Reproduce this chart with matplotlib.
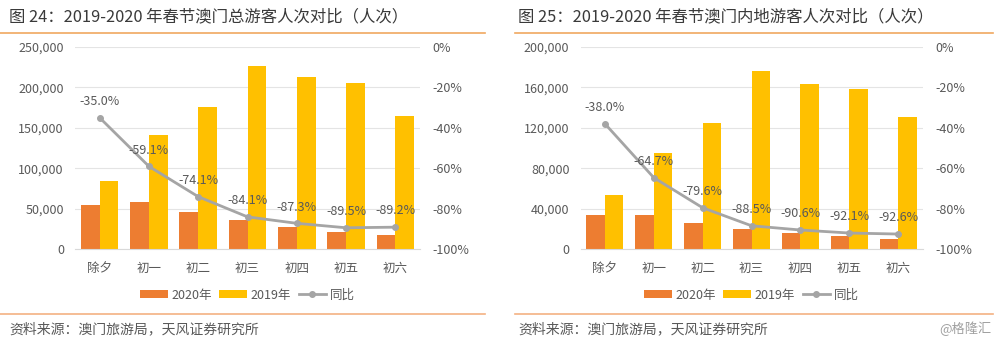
import matplotlib.pyplot as plt
import numpy as np
from matplotlib.ticker import FuncFormatter

plt.rcParams['font.family'] = ['Noto Sans CJK SC', 'DejaVu Sans']

days = ['除夕', '初一', '初二', '初三', '初四', '初五', '初六']

# 总游客
total_2020 = [54700, 57700, 45500, 36000, 27000, 21500, 17800]
total_2019 = [84200, 141000, 175700, 226500, 213000, 205000, 165000]
total_yoy = [-35.0, -59.1, -74.1, -84.1, -87.3, -89.5, -89.2]

# 内地游客
mainland_2020 = [33200, 33400, 25500, 20200, 15400, 12500, 9700]
mainland_2019 = [53500, 94700, 125000, 176000, 163700, 158000, 131000]
mainland_yoy = [-38.0, -64.7, -79.6, -88.5, -90.6, -92.1, -92.6]

ORANGE = '#ED7D31'
YELLOW = '#FFC000'
GRAY = '#A5A5A5'
TEXT = '#595959'
RULE = '#F4B183'


def draw_panel(fig, rect, v2020, v2019, yoy, ymax, ystep):
    ax = fig.add_axes(rect)
    x = np.arange(len(days))
    w = 0.38
    ax.bar(x - w / 2, v2020, w, color=ORANGE, label='2020年', zorder=2)
    ax.bar(x + w / 2, v2019, w, color=YELLOW, label='2019年', zorder=2)
    ax.set_ylim(0, ymax)
    ax.set_yticks(np.arange(0, ymax + 1, ystep))
    ax.yaxis.set_major_formatter(FuncFormatter(lambda v, p: f'{int(v):,}'))
    ax.set_xlim(-0.5, len(days) - 0.5)
    ax.set_xticks(x)
    ax.set_xticklabels(days)
    ax.grid(axis='y', color='#E4E4E4', lw=0.8, zorder=0)
    for s in ['top', 'right', 'left']:
        ax.spines[s].set_visible(False)
    ax.spines['bottom'].set_color('#D9D9D9')
    ax.tick_params(length=0, labelsize=9, colors=TEXT)
    ax.tick_params(axis='x', pad=9)
    ax.tick_params(axis='y', pad=8)

    ax2 = ax.twinx()
    ax2.plot(x, np.array(yoy) / 100, color=GRAY, lw=2, marker='o', ms=4,
             label='同比', zorder=3)
    for xi, v in zip(x, yoy):
        ax2.annotate(f'{v:.1f}%', (xi, v / 100), xytext=(0, 7),
                     textcoords='offset points', ha='center', va='bottom',
                     fontsize=9, color=TEXT)
    ax2.set_ylim(-1, 0)
    ax2.set_yticks(np.arange(-1, 0.01, 0.2))
    ax2.yaxis.set_major_formatter(FuncFormatter(lambda v, p: f'{round(v * 100)}%'))
    for s in ax2.spines.values():
        s.set_visible(False)
    ax2.tick_params(length=0, labelsize=9, colors=TEXT, pad=9)

    h1, l1 = ax.get_legend_handles_labels()
    h2, l2 = ax2.get_legend_handles_labels()
    leg = fig.legend(h1 + h2, l1 + l2, loc='center',
                     bbox_to_anchor=(rect[0] + rect[2] / 2, 1 - 295 / 344),
                     ncol=3, frameon=False, fontsize=9, handlelength=2.2,
                     handleheight=0.6, columnspacing=0.6, handletextpad=0.3)
    for t in leg.get_texts():
        t.set_color(TEXT)
    return ax


fig = plt.figure(figsize=(10, 3.44), dpi=100)

draw_panel(fig, [0.075, 0.2762, 0.345, 0.5872],
           total_2020, total_2019, total_yoy, 250000, 50000)
draw_panel(fig, [0.5805, 0.2762, 0.342, 0.5872],
           mainland_2020, mainland_2019, mainland_yoy, 200000, 40000)

# titles, rules and source notes
fig.text(0.009, 1 - 17 / 344, '图 24：2019-2020 年春节澳门总游客人次对比（人次）',
         fontsize=11.8, color='#3A3A3A', va='center', ha='left')
fig.text(0.518, 1 - 17 / 344, '图 25：2019-2020 年春节澳门内地游客人次对比（人次）',
         fontsize=11.8, color='#3A3A3A', va='center', ha='left')
for x0, x1 in [(0.0, 0.485), (0.515, 0.993)]:
    fig.add_artist(plt.Line2D([x0, x1], [1 - 33 / 344] * 2, color='#F0A860', lw=1.2))
    fig.add_artist(plt.Line2D([x0, x1], [1 - 314 / 344] * 2, color=RULE, lw=1.2))
fig.text(0.009, 1 - 329 / 344, '资料来源：澳门旅游局，天风证券研究所',
         fontsize=10, color=TEXT, va='center', ha='left')
fig.text(0.518, 1 - 329 / 344, '资料来源：澳门旅游局，天风证券研究所',
         fontsize=10, color=TEXT, va='center', ha='left')
fig.text(0.992, 1 - 329 / 344, '@格隆汇', fontsize=9.5, color='#A0A0A0',
         va='center', ha='right')

fig.savefig('out.png', dpi=100, facecolor='white')
